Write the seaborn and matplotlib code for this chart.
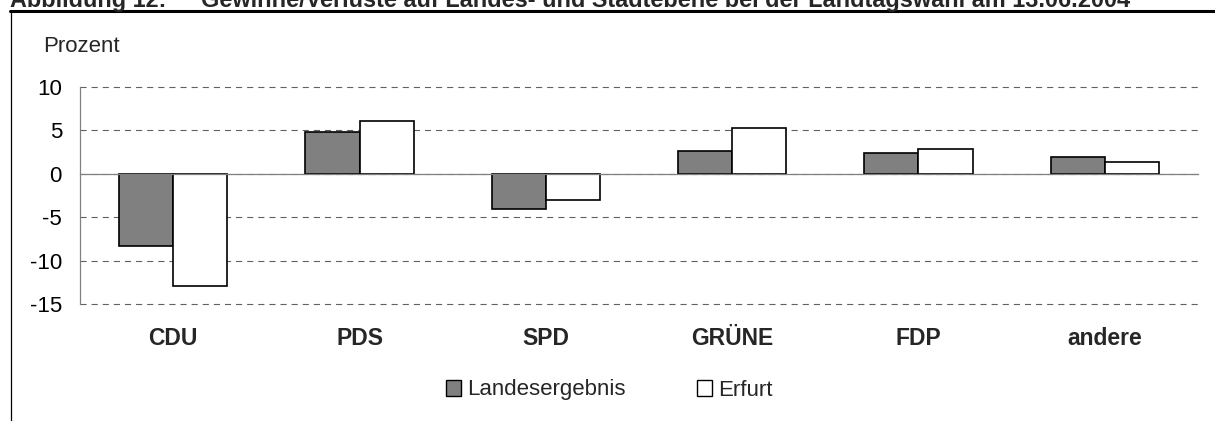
import matplotlib
matplotlib.use("Agg")
import matplotlib.pyplot as plt
from matplotlib.lines import Line2D
from matplotlib.patches import Patch
import pandas as pd
import seaborn as sns

parteien = ["CDU", "PDS", "SPD", "GRÜNE", "FDP", "andere"]
landesergebnis = [-8.3, 4.8, -4.1, 2.6, 2.4, 1.9]
erfurt = [-12.9, 6.1, -3.0, 5.2, 2.8, 1.3]
serien = ["Landesergebnis", "Erfurt"]
farben = ["#808080", "#ffffff"]
y_ticks = [-15, -10, -5, 0, 5, 10]

titel_nr = "Abbildung 12:"
titel = "Gewinne/Verluste auf Landes- und Stadtebene bei der Landtagswahl am 13.06.2004"

df = pd.DataFrame({
    "partei": parteien * 2,
    "wert": landesergebnis + erfurt,
    "serie": [serien[0]] * len(parteien) + [serien[1]] * len(parteien),
})

sns.set_style("white")
plt.rcParams['font.family'] = ['Liberation Sans', 'DejaVu Sans']

W, H = 1215, 421
fig = plt.figure(figsize=(W / 100, H / 100), dpi=100)
ax = fig.add_axes([80 / W, 1 - 304 / H, (1198 - 80) / W, (304 - 86.7) / H])

sns.barplot(
    data=df, x="partei", y="wert", hue="serie",
    order=parteien, hue_order=serien,
    palette=farben, width=0.58, gap=0,
    edgecolor="black", linewidth=1.2,
    saturation=1, legend=False, ax=ax,
)

ax.set_xlim(-0.5, len(parteien) - 0.5)
ax.set_ylim(-15, 10)
ax.set_yticks(y_ticks)
ax.set_yticklabels([str(v) for v in y_ticks], fontsize=16)
ax.set_xlabel("")
ax.set_ylabel("")

# x axis sits on zero, ticks on category borders
ax.spines['bottom'].set_position(('data', 0))
ax.spines['bottom'].set_color("#808080")
ax.spines['bottom'].set_linewidth(0.9)
ax.spines['left'].set_color("#808080")
ax.spines['left'].set_linewidth(0.9)
ax.spines['top'].set_visible(False)
ax.spines['right'].set_visible(False)
ax.set_xticks([i - 0.5 for i in range(len(parteien) + 1)])
ax.set_xticklabels([])
ax.tick_params(axis="x", direction="out", length=6, width=0.9, color="#404040")
ax.tick_params(axis="y", direction="out", length=6, width=0.9, color="#404040",
               pad=7, labelcolor="black")

ax.set_axisbelow(True)
ax.yaxis.grid(True, linestyle=(0, (5.5, 4.5)), linewidth=0.8, color="#606060")
ax.xaxis.grid(False)
for gl in ax.get_ygridlines():
    gl.set_clip_on(False)

for i, p in enumerate(parteien):
    ax.text(i, -0.158, p, transform=ax.get_xaxis_transform(),
            ha="center", va="center", fontsize=16.5, fontweight="bold")

fig.text(43 / W, 1 - 47 / H, "Prozent", ha="left", va="center", fontsize=16)

handles = [Patch(facecolor=c, edgecolor="black", linewidth=1.0) for c in farben]
fig.legend(handles, serien, loc="center", bbox_to_anchor=(609 / W, 1 - 390 / H),
           ncol=2, frameon=False, fontsize=16, handlelength=0.7, handleheight=0.7,
           handletextpad=0.25, columnspacing=3.2)

# title, cut at the top edge as in the scan
fig.text(10 / W, 1 - 7 / H, titel_nr, ha="left", va="baseline", fontsize=16.8, fontweight="bold")
fig.text(201 / W, 1 - 7 / H, titel, ha="left", va="baseline", fontsize=16.9, fontweight="bold")

# frame lines
fig.add_artist(Line2D([10 / W, 1], [1 - 10.5 / H, 1 - 10.5 / H], lw=2.2, color="black",
                      transform=fig.transFigure))
fig.add_artist(Line2D([11 / W, 11 / W], [0, 1 - 10.5 / H], lw=0.9, color="black",
                      transform=fig.transFigure))

fig.savefig("out.png", dpi=100)
